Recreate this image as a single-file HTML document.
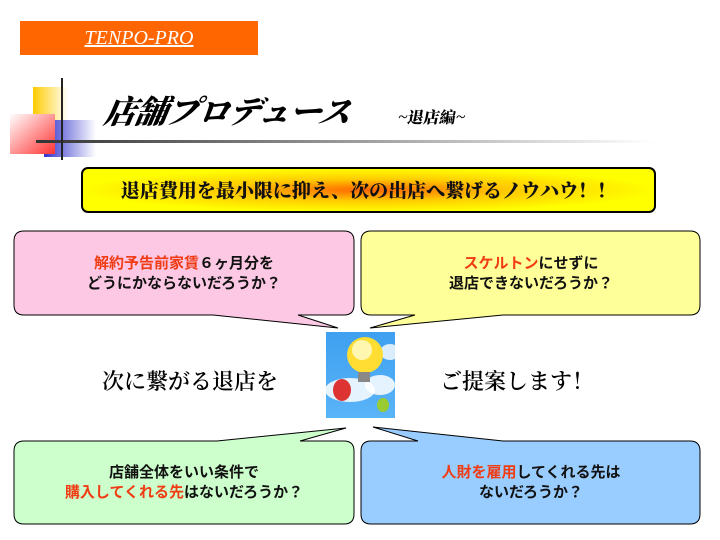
<!DOCTYPE html>
<html><head><meta charset="utf-8"><style>
body{margin:0;width:720px;height:540px;background:#fff;position:relative;overflow:hidden;font-family:"Liberation Sans","Noto Sans CJK JP",sans-serif}
.t{position:absolute;text-align:center;font-weight:bold;font-size:15px;line-height:20px;color:#111}
.r{color:#f03c14}
.s{font-family:"Noto Serif CJK SC",serif}
</style></head><body>
<svg width="720" height="540" style="position:absolute;left:0;top:0">
<defs>
<linearGradient id="ln" x1="0" x2="1"><stop offset="0" stop-color="#333"/><stop offset="1" stop-color="#fff"/></linearGradient>
<linearGradient id="yl" x1="0" x2="1"><stop offset="0" stop-color="#fc0"/><stop offset="1" stop-color="#fff"/></linearGradient>
<linearGradient id="rd" x1="0" y1="0" x2="1" y2="1"><stop offset="0" stop-color="#fff"/><stop offset="1" stop-color="#f33"/></linearGradient>
<linearGradient id="bl" x1="0" x2="1"><stop offset="0" stop-color="#33c"/><stop offset="1" stop-color="#fff"/></linearGradient>
<radialGradient id="bn" cx="0.5" cy="0.5" r="0.5"><stop offset="0" stop-color="#f60"/><stop offset="0.5" stop-color="#fc0"/><stop offset="1" stop-color="#ff0"/></radialGradient>
<linearGradient id="sky" x1="0" y1="0" x2="0" y2="1"><stop offset="0" stop-color="#3ea0f0"/><stop offset="1" stop-color="#5ab4f8"/></linearGradient>
</defs>
<rect x="20" y="21" width="238" height="34" fill="#f60"/>
<rect x="33" y="87" width="35" height="50" fill="url(#yl)"/>
<rect x="44" y="120" width="52" height="37" fill="url(#bl)"/>
<rect x="10" y="114" width="45" height="40" fill="url(#rd)"/>
<rect x="36" y="140" width="620" height="3" fill="url(#ln)"/>
<rect x="61" y="78" width="2" height="82" fill="#222"/>
<rect x="82" y="168" width="573" height="44" rx="6" fill="url(#bn)" stroke="#000" stroke-width="2"/>
<g stroke="#000" stroke-width="1">
<path d="M24,231H344Q354,231 354,241V305Q354,315 344,315H298L338,328L213,315H24Q14,315 14,305V241Q14,231 24,231Z" fill="#fcc8e4"/>
<path d="M371,231H690Q700,231 700,241V305Q700,315 690,315H503L370,328L415,315H371Q361,315 361,305V241Q361,231 371,231Z" fill="#ffff99"/>
<path d="M24,441H217L346,428L300,441H344Q354,441 354,451V514Q354,524 344,524H24Q14,524 14,514V451Q14,441 24,441Z" fill="#ccffcc"/>
<path d="M371,441H418L373,427L503,441H690Q700,441 700,451V514Q700,524 690,524H371Q361,524 361,514V451Q361,441 371,441Z" fill="#99ccff"/>
</g>
<rect x="326" y="332" width="69" height="86" fill="url(#sky)"/>
<ellipse cx="350" cy="390" rx="25" ry="12" fill="#fff" opacity="0.85"/>
<ellipse cx="380" cy="385" rx="15" ry="10" fill="#fff" opacity="0.85"/>
<ellipse cx="390" cy="352" rx="10" ry="8" fill="#fff" opacity="0.8"/>
<circle cx="365" cy="355" r="18" fill="#fd3"/>
<circle cx="362" cy="350" r="10" fill="#fff6b0"/>
<rect x="358" y="372" width="12" height="10" fill="#888"/>
<ellipse cx="342" cy="390" rx="9" ry="11" fill="#d33"/>
<ellipse cx="383" cy="405" rx="6" ry="7" fill="#9c3"/>
</svg>
<div style="position:absolute;left:20px;top:27px;width:238px;text-align:center;color:#fff;font:italic 20px 'Liberation Serif','Noto Serif CJK SC',serif;text-decoration:underline">TENPO-PRO</div>
<div class="s" style="position:absolute;left:105px;top:90px;font-size:32px;font-weight:900;font-style:italic;color:#000;transform:skewX(-10deg);letter-spacing:-1px;line-height:40px">店舗プロデュース</div>
<div class="s" style="position:absolute;left:398px;top:106px;font-size:16px;font-weight:900;color:#000;transform:skewX(-10deg);line-height:22px">~退店編~</div>
<div class="s" style="position:absolute;left:82px;top:176px;width:573px;text-align:center;font-size:19px;font-weight:900;color:#111;line-height:28px">退店費用を最小限に抑え、次の出店へ繋げるノウハウ！！</div>
<div class="t" style="left:14px;top:254px;width:340px"><span class="r">解約予告前家賃</span>６ヶ月分を<br>どうにかならないだろうか？</div>
<div class="t" style="left:361px;top:254px;width:340px"><span class="r">スケルトン</span>にせずに<br>退店できないだろうか？</div>
<div class="t" style="left:14px;top:463px;width:340px">店舗全体をいい条件で<br><span class="r">購入してくれる先</span>はないだろうか？</div>
<div class="t" style="left:361px;top:463px;width:340px"><span class="r">人財を雇用</span>してくれる先は<br>ないだろうか？</div>
<div class="s" style="position:absolute;left:102px;top:366px;font-size:22px;font-weight:600;color:#000;line-height:30px">次に繋がる退店を</div>
<div class="s" style="position:absolute;left:440px;top:366px;font-size:22px;font-weight:600;color:#000;line-height:30px">ご提案します！</div>
</body></html>
